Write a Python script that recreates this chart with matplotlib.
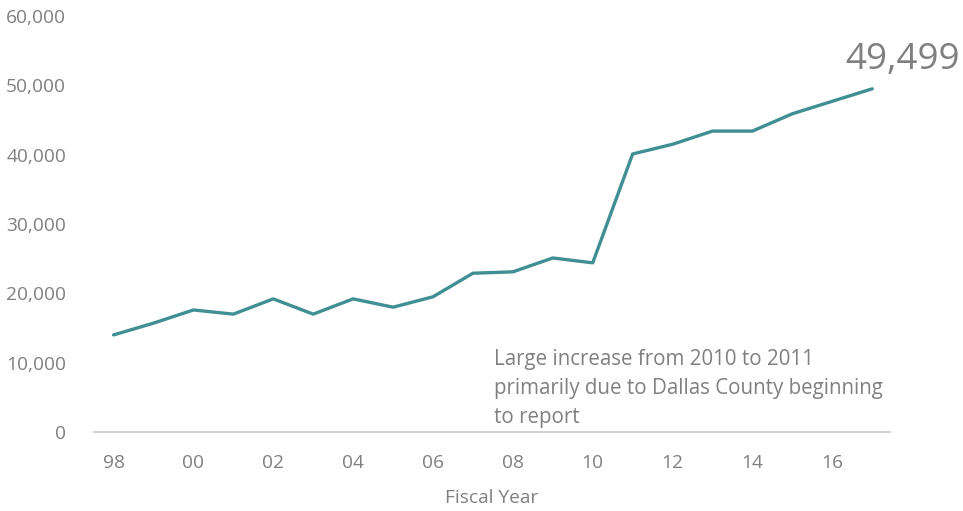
import matplotlib.pyplot as plt
from matplotlib.ticker import FuncFormatter

plt.rcParams['font.family'] = ['Open Sans', 'DejaVu Sans']

# Data
years = list(range(1998, 2018))
values = [14000, 15700, 17600, 17000, 19200, 17000, 19200, 18000, 19500, 22900,
          23100, 25100, 24400, 40100, 41500, 43400, 43400, 45900, 47700, 49499]
tick_years = list(range(1998, 2017, 2))
tick_labels = [str(y)[-2:] for y in tick_years]

grey = '#808080'
teal = '#3F8F94'

fig = plt.figure(figsize=(9.63, 5.11), dpi=100)
ax = fig.add_axes([0.0976, 0.1546, 0.8264, 0.8141])

ax.plot(years, values, color=teal, linewidth=2.4, solid_capstyle='round')

ax.set_xlim(1997.51, 2017.44)
ax.set_ylim(0, 60000)
ax.set_yticks(range(0, 60001, 10000))
ax.yaxis.set_major_formatter(FuncFormatter(lambda v, p: f'{int(v):,}'))
ax.set_xticks(tick_years)
ax.set_xticklabels(tick_labels)

for s in ['top', 'right', 'left']:
    ax.spines[s].set_visible(False)
ax.spines['bottom'].set_color('#c8c8c8')
ax.spines['bottom'].set_linewidth(1.2)
ax.tick_params(axis='both', length=0, labelsize=13.8, colors=grey)
ax.tick_params(axis='y', pad=20)
ax.tick_params(axis='x', pad=16)

ax.set_xlabel('Fiscal Year', fontsize=13.8, color=grey, labelpad=12)

# last value label
ax.annotate(f'{values[-1]:,}', xy=(years[-1], values[-1]), xytext=(22, 8),
            textcoords='offset points', ha='center', va='bottom',
            fontsize=26.5, color=grey, annotation_clip=False)

ax.text(2007.53, 600,
        'Large increase from 2010 to 2011\nprimarily due to Dallas County beginning\nto report',
        fontsize=14.8, color=grey, ha='left', va='bottom', linespacing=1.5)

fig.savefig('out.png', dpi=100)
